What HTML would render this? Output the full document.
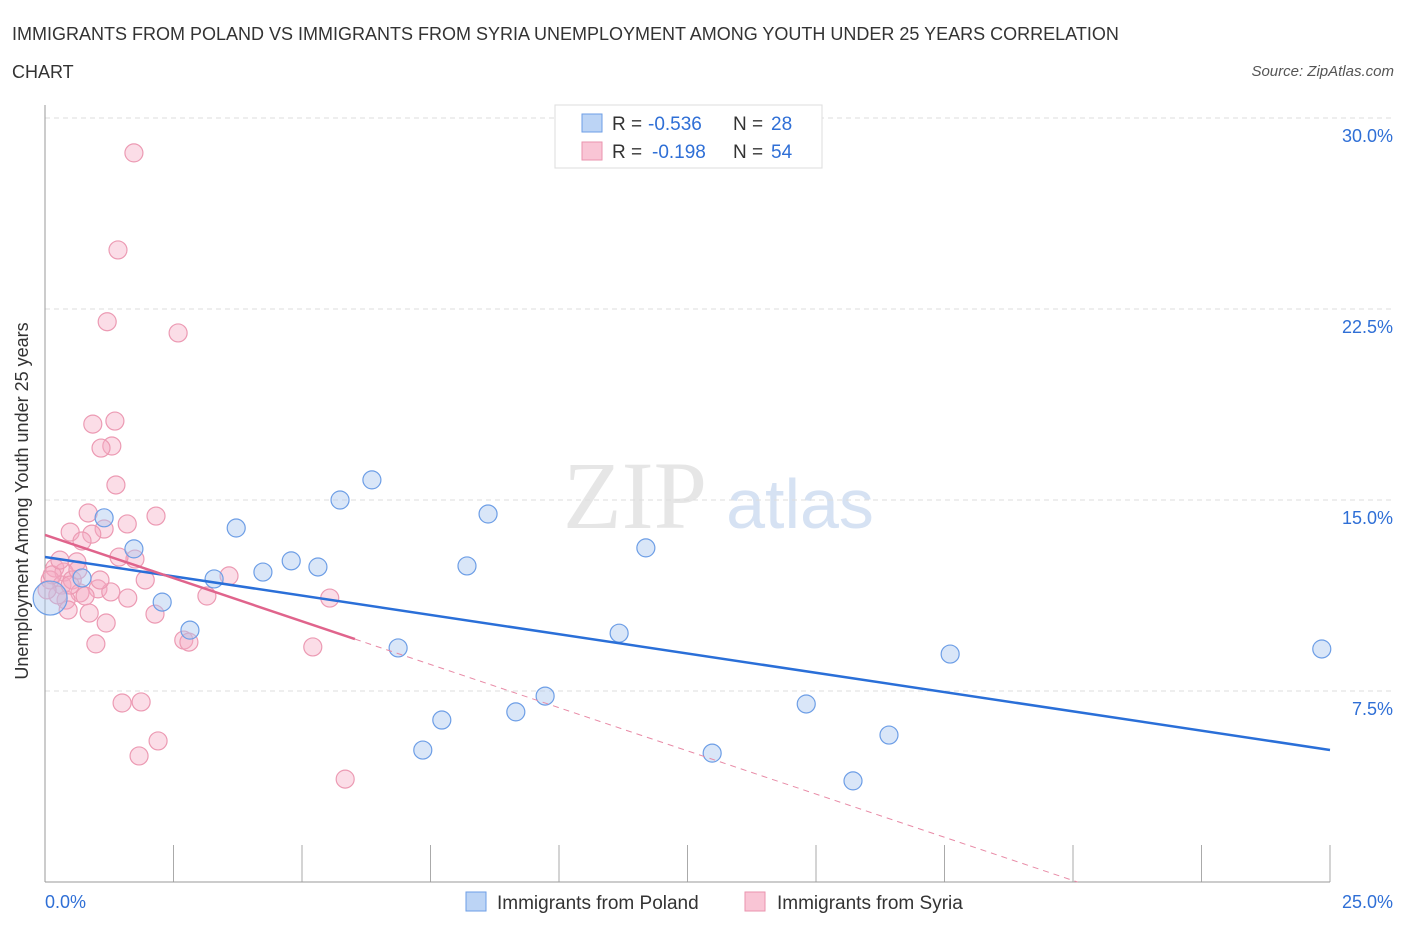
<!DOCTYPE html>
<html><head><meta charset="utf-8"><style>
body{margin:0;background:#fff;font-family:"Liberation Sans",sans-serif;}
</style></head><body>
<svg width="1406" height="930" xmlns="http://www.w3.org/2000/svg" style="font-family:'Liberation Sans',sans-serif">
<text x="12" y="40" font-size="18" fill="#333">IMMIGRANTS FROM POLAND VS IMMIGRANTS FROM SYRIA UNEMPLOYMENT AMONG YOUTH UNDER 25 YEARS CORRELATION</text>
<text x="12" y="78" font-size="18" fill="#333">CHART</text>
<text x="1394" y="76" font-size="15" fill="#555" font-style="italic" text-anchor="end">Source: ZipAtlas.com</text>
<text x="635" y="528" font-size="96" fill="#e6e6e6" font-family="Liberation Serif,serif" text-anchor="middle">ZIP</text>
<text x="800" y="528" font-size="70" fill="#d6e2f3" text-anchor="middle">atlas</text>
<g id="grid"></g>
<line x1="45" y1="105" x2="45" y2="882" stroke="#999"/>
<line x1="45" y1="882" x2="1330" y2="882" stroke="#999"/>
<text x="20" y="493" font-size="18" fill="#333" text-anchor="middle" transform="rotate(-90 28 493)">Unemployment Among Youth under 25 years</text>
<g id="lines"></g>
<g id="pts"></g>
<g>
<rect x="555" y="105" width="267" height="63" fill="#fff" stroke="#ddd"/>
<rect x="582" y="114" width="20" height="18" fill="#bcd4f5" stroke="#6d9ee6"/>
<rect x="582" y="142" width="20" height="18" fill="#f9c5d5" stroke="#ea93ae"/>
<text x="612" y="130" font-size="19" fill="#333">R =</text>
<text x="648" y="130" font-size="19" fill="#2f6fd6">-0.536</text>
<text x="733" y="130" font-size="19" fill="#333">N =</text>
<text x="771" y="130" font-size="19" fill="#2f6fd6">28</text>
<text x="612" y="158" font-size="19" fill="#333">R =</text>
<text x="652" y="158" font-size="19" fill="#2f6fd6">-0.198</text>
<text x="733" y="158" font-size="19" fill="#333">N =</text>
<text x="771" y="158" font-size="19" fill="#2f6fd6">54</text>
</g>
<g>
<rect x="466" y="892" width="20" height="19" fill="#bcd4f5" stroke="#6d9ee6"/>
<text x="497" y="909" font-size="19" fill="#333">Immigrants from Poland</text>
<rect x="745" y="892" width="20" height="19" fill="#f9c5d5" stroke="#ea93ae"/>
<text x="777" y="909" font-size="19" fill="#333">Immigrants from Syria</text>
</g>
</svg>
<script>
const yTicks=[7.5,15,22.5,30];
const yTickLabels=["7.5%","15.0%","22.5%","30.0%"];
const xTickVals=[0,2.5,5,7.5,10,12.5,15,17.5,20,22.5,25];
const xLabels=["0.0%","25.0%"];
const polandX=[0.10,0.72,1.15,1.73,2.28,2.82,3.29,3.72,4.24,4.79,5.31,5.74,6.36,6.87,7.35,7.72,8.21,8.62,9.16,9.73,11.17,11.69,12.98,14.81,15.72,16.42,17.61,24.84];
const polandY=[11.15,11.94,14.30,13.08,10.99,9.89,11.90,13.90,12.17,12.61,12.37,15.00,15.79,9.19,5.18,6.36,12.41,14.45,6.68,7.30,9.77,13.12,5.06,6.99,3.97,5.77,8.95,9.15];
const syriaX=[1.73,1.42,1.21,2.59,1.36,0.93,1.30,1.09,1.38,0.84,2.16,1.60,0.49,1.15,0.91,0.72,1.75,1.44,0.62,0.19,0.37,0.10,3.58,1.95,0.33,0.53,1.03,0.68,1.28,1.61,0.78,3.15,5.54,0.41,2.14,0.86,1.19,2.70,2.80,5.21,0.99,1.50,1.87,2.20,1.83,5.84,0.25,0.14,0.04,0.49,0.64,1.07,0.29,0.45];
const syriaY=[28.63,24.82,22.0,21.56,18.10,17.98,17.12,17.04,15.59,14.49,14.37,14.06,13.74,13.86,13.66,13.39,12.68,12.76,12.57,12.33,12.17,11.86,12.02,11.86,11.66,11.86,11.51,11.35,11.39,11.15,11.23,11.23,11.15,11.07,10.52,10.56,10.17,9.50,9.42,9.23,9.35,7.03,7.07,5.54,4.95,4.04,11.27,12.06,11.47,11.66,12.25,11.86,12.64,10.68];
const polandFit=[12.76,-0.303];
const syriaFit=[13.63,-0.6785];
const X=v=>45+v/25*1285, Y=v=>882-v/7.5*191;
const NS="http://www.w3.org/2000/svg";
function mk(t,a,p){const e=document.createElementNS(NS,t);for(const k in a)e.setAttribute(k,a[k]);p.appendChild(e);return e;}
const grid=document.getElementById('grid'),svg=document.querySelector('svg');
yTicks.forEach((v,i)=>{
 const l=mk('line',{x1:45,x2:1393,y1:Y(v),y2:Y(v),stroke:'#ddd','stroke-dasharray':'5,4'},grid);
 
 
 const t=mk('text',{x:1393,y:Y(v)+24,'font-size':18,fill:'#2f6fd6','text-anchor':'end'},grid);
 t.textContent=yTickLabels[i];
 
 
});
xTickVals.forEach(v=>{
 const l=mk('line',{x1:X(v),x2:X(v),y1:845,y2:882,stroke:'#aaa'},grid);
 
 
});
[[0,'start',45],[25,'end',1393]].forEach((a,i)=>{
 const t=mk('text',{x:a[2],y:908,'font-size':18,fill:'#2f6fd6','text-anchor':a[1]},grid);
 t.textContent=xLabels[i];
 
 
});
const lines=document.getElementById('lines'),pts=document.getElementById('pts');
syriaX.forEach((x,i)=>{
 const c=mk('circle',{cx:X(x),cy:Y(syriaY[i]),r:9,fill:'rgba(246,170,195,0.4)',stroke:'#ec9ab3','stroke-width':1.2},pts);
 
 
});
polandX.forEach((x,i)=>{
 const c=mk('circle',{cx:X(x),cy:Y(polandY[i]),r:i==0?17:9,fill:'rgba(170,200,240,0.45)',stroke:'#6d9ee6','stroke-width':1.2},pts);
 
 
});
const f=(fit,x)=>fit[0]+fit[1]*x;
let l1=mk('line',{x1:X(0),y1:Y(f(polandFit,0)),x2:X(25),y2:Y(f(polandFit,25)),stroke:'#2a6fd8','stroke-width':2.5},lines);


const xEnd=-syriaFit[0]/syriaFit[1];
let l2=mk('line',{x1:X(6.03),y1:Y(f(syriaFit,6.03)),x2:X(xEnd),y2:Y(0),stroke:'#e88aa6','stroke-width':1,'stroke-dasharray':'6,5'},lines);


let l3=mk('line',{x1:X(0),y1:Y(f(syriaFit,0)),x2:X(6.03),y2:Y(f(syriaFit,6.03)),stroke:'#e0648c','stroke-width':2.5},lines);


svg.appendChild(lines);
</script>
</body></html>
